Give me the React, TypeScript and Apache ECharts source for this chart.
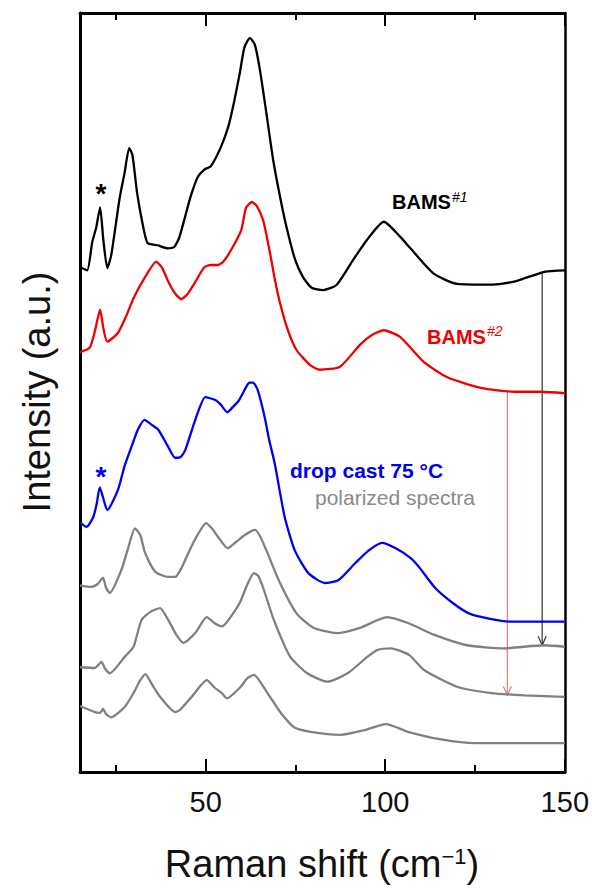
import React, { useEffect, useRef } from "react";
import * as echarts from "echarts";

// Raman shift (cm^-1) and intensity (a.u., offset) for each spectrum
const bams1X = [15, 17.0, 18.4, 19.5, 20.6, 21.5, 22.6, 23.7, 26.0, 27.4, 28.7, 29.6, 30.9, 32.4, 33.8, 36.6, 39.4, 41.3, 42.7, 45.8, 47.8, 49.7, 51.4, 54.2, 56.4, 58.0, 59.5, 60.8, 62.3, 63.7, 65.1, 66.9, 68.8, 70.7, 72.5, 74.9, 77.1, 79.5, 82.7, 86.5, 91.1, 94.9, 99.6, 104.2, 107.0, 113.4, 120.0, 129.5, 135.9, 144.3, 150];
const bams1Y = [66.5, 66.1, 69.8, 71.7, 74.4, 70.1, 66.4, 68.1, 75.5, 78.9, 82.2, 81.3, 76.3, 72.3, 69.7, 69.4, 69.0, 69.2, 70.5, 75.8, 78.4, 79.4, 79.8, 82.3, 85.2, 88.5, 92.1, 95.5, 96.7, 95.8, 92.5, 86.8, 80.6, 75.8, 71.8, 67.5, 65.2, 63.8, 63.5, 64.2, 67.5, 70.1, 72.5, 70.5, 69.0, 65.7, 64.3, 64.2, 64.6, 65.9, 66.1];

const bams2X = [15, 17.7, 19.2, 20.6, 21.5, 22.6, 25.5, 27.7, 30.1, 33.0, 36.2, 37.8, 39.4, 41.4, 43.2, 45.0, 46.9, 49.6, 51.4, 53.4, 55.0, 57.1, 59.9, 61.2, 62.8, 64.2, 66.0, 67.9, 69.3, 70.7, 72.9, 75.3, 79.1, 81.8, 87.4, 93.0, 96.4, 99.6, 104.2, 110.8, 117.3, 126.6, 135.9, 143.4, 150];
const bams2Y = [55.3, 55.9, 58.2, 60.9, 58.5, 56.7, 57.8, 59.9, 62.6, 65.1, 67.2, 66.5, 64.8, 63.1, 62.3, 63.0, 64.4, 66.5, 66.8, 66.8, 67.3, 68.8, 71.4, 74.3, 75.1, 74.6, 72.7, 68.4, 64.8, 61.8, 58.2, 55.6, 53.6, 53.0, 53.4, 56.3, 57.6, 58.2, 57.3, 54.0, 52.0, 50.6, 50.1, 50.1, 49.9];

const dropX = [15, 16.8, 18.6, 19.6, 20.5, 21.4, 22.6, 25.6, 27.4, 29.3, 31.1, 33.0, 34.8, 36.8, 39.6, 41.5, 43.0, 44.3, 47.1, 49.9, 52.7, 54.2, 56.0, 57.6, 59.3, 61.6, 62.2, 63.2, 64.5, 66.4, 67.7, 69.2, 72.0, 74.8, 78.6, 83.2, 87.0, 91.6, 95.4, 99.1, 102.8, 107.0, 109.4, 114.0, 118.7, 123.3, 128.9, 134.5, 142.0, 150];
const dropY = [32.9, 32.3, 33.5, 35.2, 37.5, 36.2, 34.5, 37.2, 40.3, 42.8, 45.1, 46.4, 45.8, 45.1, 42.8, 41.4, 41.5, 42.4, 46.4, 49.4, 49.0, 48.4, 47.4, 48.1, 49.0, 51.0, 51.3, 51.3, 50.3, 46.8, 43.7, 40.7, 33.6, 29.2, 26.2, 24.9, 25.3, 27.5, 29.2, 30.2, 29.5, 28.2, 27.0, 24.2, 22.3, 20.9, 20.2, 19.8, 19.8, 19.8];

const pol1X = [15, 18.2, 20.0, 21.4, 22.3, 23.3, 26.5, 28.4, 30.3, 31.8, 33.1, 35.9, 39.6, 41.5, 43.3, 45.2, 47.7, 50.1, 51.7, 53.4, 56.1, 58.4, 60.8, 63.7, 65.1, 66.9, 70.7, 75.3, 80.0, 86.5, 93.0, 100.5, 106.5, 113.5, 122.8, 133.1, 144.2, 150];
const pol1Y = [24.6, 24.4, 24.8, 25.6, 24.2, 23.6, 26.6, 29.5, 32.1, 31.2, 28.9, 26.4, 25.7, 25.7, 26.9, 28.9, 31.2, 32.8, 32.1, 31.0, 29.5, 30.3, 31.2, 31.9, 31.1, 29.2, 24.9, 20.9, 19.0, 18.3, 19.0, 20.4, 19.6, 18.1, 16.7, 16.3, 16.7, 16.5];

const pol2X = [15, 19.1, 21.0, 22.0, 23.3, 27.5, 29.9, 32.1, 34.6, 37.3, 39.6, 41.8, 43.8, 47.1, 50.3, 52.5, 54.6, 58.2, 59.7, 61.5, 63.4, 64.7, 66.2, 69.0, 73.5, 78.3, 83.9, 89.5, 95.1, 97.9, 101.6, 106.7, 110.9, 120.2, 129.5, 138.8, 150];
const pol2Y = [13.8, 13.7, 14.5, 13.6, 13.0, 15.2, 16.5, 20.0, 21.1, 21.6, 20.0, 18.1, 17.0, 18.3, 20.4, 19.6, 19.2, 21.3, 22.5, 24.6, 26.2, 25.8, 24.0, 20.0, 15.2, 13.0, 11.9, 13.0, 15.2, 16.1, 16.3, 15.4, 13.4, 11.2, 10.4, 10.1, 9.9];

const pol3X = [15, 19.1, 20.6, 21.4, 22.3, 23.7, 27.5, 29.9, 31.8, 33.2, 35.1, 37.3, 41.5, 42.9, 46.1, 50.3, 52.5, 54.5, 55.9, 59.7, 61.5, 63.4, 67.2, 70.9, 74.6, 79.2, 87.6, 94.1, 100.2, 106.3, 115.6, 124.9, 134.2, 150];
const pol3Y = [8.7, 7.9, 7.8, 8.3, 7.6, 7.2, 8.6, 10.4, 12.1, 12.9, 11.5, 9.9, 7.9, 8.2, 9.9, 12.1, 11.1, 10.4, 9.7, 11.2, 12.3, 12.8, 10.4, 7.8, 5.9, 5.3, 4.9, 5.5, 6.3, 5.3, 4.3, 3.8, 3.8, 3.8];

// Arrows: x position, start intensity, end intensity
const arrowX = [143.7, 134.0];
const arrowFrom = [65.9, 50.0];
const arrowTo = [16.7, 10.1];
const arrowColors = ["#333333", "#e07a7a"];

const majorTicks = [50, 100, 150];
const minorTicks = [25, 75, 125];

const FONT = "Liberation Sans, Arial, Helvetica, sans-serif";

const zip = (xs: number[], ys: number[]) => xs.map((x, i) => [x, ys[i]]);

export default function App() {
  const ref = useRef<HTMLDivElement>(null);
  useEffect(() => {
    if (!ref.current) return;
    const chart = echarts.init(ref.current, undefined, { renderer: "svg" });
    const lineSeries = (name: string, xs: number[], ys: number[], color: string) => ({
      name,
      type: "line",
      data: zip(xs, ys),
      showSymbol: false,
      smooth: 0.2,
      lineStyle: { color, width: 2.3 },
      itemStyle: { color },
      z: 3,
    });
    const baseX = {
      type: "value",
      min: 15,
      max: 150,
      splitLine: { show: false },
    };
    const option: any = {
      animation: false,
      backgroundColor: "#ffffff",
      grid: { left: 80, right: 27, top: 13, bottom: 116 },
      xAxis: [
        {
          ...baseX,
          position: "bottom",
          axisLine: { show: true, lineStyle: { color: "#000", width: 3 } },
          axisTick: { show: true, inside: true, length: 13, lineStyle: { color: "#000", width: 2 }, customValues: majorTicks },
          axisLabel: { show: true, customValues: majorTicks, fontSize: 29, color: "#111", fontFamily: FONT, margin: 15 },
        },
        {
          ...baseX,
          position: "bottom",
          axisLine: { show: false },
          axisTick: { show: true, inside: true, length: 7, lineStyle: { color: "#000", width: 2 }, customValues: minorTicks },
          axisLabel: { show: false },
        },
        {
          ...baseX,
          position: "top",
          axisLine: { show: true, lineStyle: { color: "#000", width: 3 } },
          axisTick: { show: true, inside: true, length: 13, lineStyle: { color: "#000", width: 2 }, customValues: majorTicks },
          axisLabel: { show: false },
        },
        {
          ...baseX,
          position: "top",
          axisLine: { show: false },
          axisTick: { show: true, inside: true, length: 7, lineStyle: { color: "#000", width: 2 }, customValues: minorTicks },
          axisLabel: { show: false },
        },
      ],
      yAxis: [
        {
          type: "value",
          min: 0,
          max: 100,
          position: "left",
          axisLine: { show: true, lineStyle: { color: "#000", width: 3 } },
          axisTick: { show: false },
          axisLabel: { show: false },
          splitLine: { show: false },
        },
        {
          type: "value",
          min: 0,
          max: 100,
          position: "right",
          axisLine: { show: true, lineStyle: { color: "#000", width: 2.5 } },
          axisTick: { show: false },
          axisLabel: { show: false },
          splitLine: { show: false },
        },
      ],
      series: [
        {
          type: "custom",
          xAxisIndex: 0,
          yAxisIndex: 0,
          data: arrowX.map((x, i) => [x, arrowFrom[i], arrowTo[i]]),
          z: 2,
          renderItem: (params: any, api: any) => {
            const p1 = api.coord([api.value(0), api.value(1)]);
            const p2 = api.coord([api.value(0), api.value(2)]);
            const c = arrowColors[params.dataIndex];
            return {
              type: "group",
              children: [
                { type: "line", shape: { x1: p1[0], y1: p1[1], x2: p2[0], y2: p2[1] }, style: { stroke: c, lineWidth: 1.2 } },
                {
                  type: "polyline",
                  shape: { points: [[p2[0] - 4, p2[1] - 9], [p2[0], p2[1]], [p2[0] + 4, p2[1] - 9]] },
                  style: { stroke: c, fill: "none", lineWidth: 1.2 },
                },
              ],
            };
          },
        },
        lineSeries("pol3", pol3X, pol3Y, "#808080"),
        lineSeries("pol2", pol2X, pol2Y, "#808080"),
        lineSeries("pol1", pol1X, pol1Y, "#808080"),
        lineSeries("drop cast 75 °C", dropX, dropY, "#0000f0"),
        lineSeries("BAMS#2", bams2X, bams2Y, "#ee0000"),
        lineSeries("BAMS#1", bams1X, bams1Y, "#000000"),
      ],
      graphic: [
        { type: "text", x: 101, y: 193, style: { text: "*", fontSize: 28, fontWeight: "bold", fill: "#000", fontFamily: FONT, align: "center", verticalAlign: "middle" } },
        { type: "text", x: 101, y: 476, style: { text: "*", fontSize: 28, fontWeight: "bold", fill: "#0000f0", fontFamily: FONT, align: "center", verticalAlign: "middle" } },
        { type: "text", x: 392, y: 202, style: { text: "BAMS", fontSize: 20, fontWeight: "bold", fill: "#000", fontFamily: FONT, align: "left", verticalAlign: "middle" } },
        { type: "text", x: 452, y: 197, style: { text: "#1", fontSize: 14, fontStyle: "italic", fill: "#000", fontFamily: FONT, align: "left", verticalAlign: "middle" } },
        { type: "text", x: 427, y: 337, style: { text: "BAMS", fontSize: 20, fontWeight: "bold", fill: "#ee0000", fontFamily: FONT, align: "left", verticalAlign: "middle" } },
        { type: "text", x: 487, y: 331, style: { text: "#2", fontSize: 14, fontStyle: "italic", fill: "#ee0000", fontFamily: FONT, align: "left", verticalAlign: "middle" } },
        { type: "text", x: 290, y: 470, style: { text: "drop cast 75 °C", fontSize: 21, fontWeight: "bold", fill: "#0000f0", fontFamily: FONT, align: "left", verticalAlign: "middle" } },
        { type: "text", x: 315, y: 497, style: { text: "polarized spectra", fontSize: 21, fill: "#8a8a8a", fontFamily: FONT, align: "left", verticalAlign: "middle" } },
        {
          type: "text",
          x: 37,
          y: 392,
          rotation: Math.PI / 2,
          style: { text: "Intensity (a.u.)", fontSize: 38, fill: "#111", fontFamily: FONT, align: "center", verticalAlign: "middle" },
        },
        {
          type: "text",
          x: 322,
          y: 864,
          style: {
            text: "{n|Raman shift (cm}{s|−1}{n|)}",
            align: "center",
            verticalAlign: "middle",
            rich: {
              n: { fontSize: 38, fill: "#111", fontFamily: FONT, lineHeight: 38, verticalAlign: "bottom" },
              s: { fontSize: 22, fill: "#111", fontFamily: FONT, lineHeight: 38, verticalAlign: "top" },
            },
          },
        },
      ],
    };
    chart.setOption(option);
    return () => chart.dispose();
  }, []);
  return <div ref={ref} style={{ position: "absolute", left: 0, top: 0, width: 592, height: 888 }} />;
}
